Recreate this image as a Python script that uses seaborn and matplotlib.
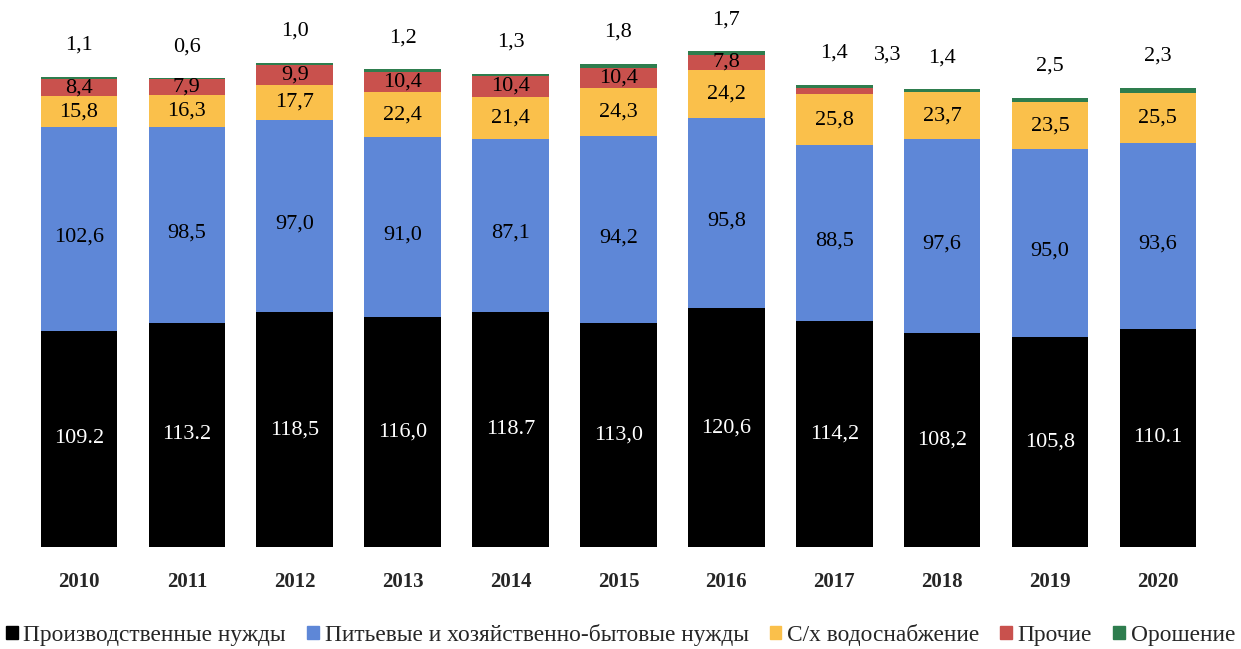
import numpy as np
import pandas as pd
import seaborn as sns
import matplotlib.pyplot as plt
from matplotlib.patches import Patch

# data
years = ["2010", "2011", "2012", "2013", "2014", "2015", "2016", "2017", "2018", "2019", "2020"]
production = [109.2, 113.2, 118.5, 116.0, 118.7, 113.0, 120.6, 114.2, 108.2, 105.8, 110.1]
production_labels = ["109.2", "113.2", "118,5", "116,0", "118.7", "113,0", "120,6", "114,2", "108,2", "105,8", "110.1"]
drinking = [102.6, 98.5, 97.0, 91.0, 87.1, 94.2, 95.8, 88.5, 97.6, 95.0, 93.6]
agri = [15.8, 16.3, 17.7, 22.4, 21.4, 24.3, 24.2, 25.8, 23.7, 23.5, 25.5]
other = [8.4, 7.9, 9.9, 10.4, 10.4, 10.4, 7.8, 3.3, 0.0, 0.0, 0.0]
irrigation = [1.1, 0.6, 1.0, 1.2, 1.3, 1.8, 1.7, 1.4, 1.4, 2.5, 2.3]

series_names = ["Производственные нужды", "Питьевые и хозяйственно-бытовые нужды",
                "С/х водоснабжение", "Прочие", "Орошение"]
colors = ["#000000", "#5E87D7", "#FAC04B", "#C9514D", "#2E7D4E"]

sns.set_theme(style="white")
plt.rcParams['font.family'] = ['Liberation Serif', 'DejaVu Serif']

df = pd.DataFrame({"year": years, "prod": production, "drink": drinking,
                   "agri": agri, "other": other, "irr": irrigation})
cols = ["prod", "drink", "agri", "other", "irr"]

fig = plt.figure(figsize=(12.41, 6.49), dpi=100)
ax = fig.add_axes([0, 0.157, 1, 0.843])

bottom = np.zeros(len(years))
for col, color in zip(cols, colors):
    sns.barplot(data=df, x="year", y=col, color=color, bottom=bottom,
                width=0.71, saturation=1, ax=ax, linewidth=0)
    bottom = bottom + df[col].values

x = np.arange(len(years))
top = bottom

def fmt(v):
    return f"{v:.1f}".replace(".", ",")

# segment labels
for i in x:
    ax.text(i, production[i] / 2, production_labels[i], ha="center", va="center",
            color="white", fontsize=16)
base = np.array(production)
for i in x:
    ax.text(i, base[i] + drinking[i] / 2 - 4, fmt(drinking[i]),
            ha="center", va="center", color="black", fontsize=16)
base = base + np.array(drinking)
for i in x:
    ax.text(i, base[i] + agri[i] / 2, fmt(agri[i]),
            ha="center", va="center", color="black", fontsize=16)
base = base + np.array(agri)
for i in x:
    if other[i] >= 5:
        ax.text(i, base[i] + other[i] / 2, fmt(other[i]),
                ha="center", va="center", color="black", fontsize=16)
    elif other[i] > 0:
        # small value sits beside the bar, as in the source
        ax.text(i + 0.5, top[i] + 15, fmt(other[i]),
                ha="center", va="center", color="black", fontsize=16)
for i in x:
    ax.text(i, top[i] + 16, fmt(irrigation[i]),
            ha="center", va="center", color="black", fontsize=16)

ax.set_xlim(-0.732, 10.77)
ax.set_ylim(0, 276)
ax.set_xlabel("")
ax.set_ylabel("")
ax.set_yticks([])
ax.tick_params(axis="x", length=0, pad=18, labelsize=15)
for lab in ax.get_xticklabels():
    lab.set_fontweight("bold")
for s in ax.spines.values():
    s.set_visible(False)

handles = [Patch(color=c, label=n) for c, n in zip(colors, series_names)]
fig.legend(handles=handles, loc="center", bbox_to_anchor=(0.5, 0.022), ncol=5,
           frameon=False, fontsize=16.8, handlelength=0.5, handleheight=0.5,
           handletextpad=0.25, columnspacing=0.9)

fig.savefig("out.png", dpi=100)
